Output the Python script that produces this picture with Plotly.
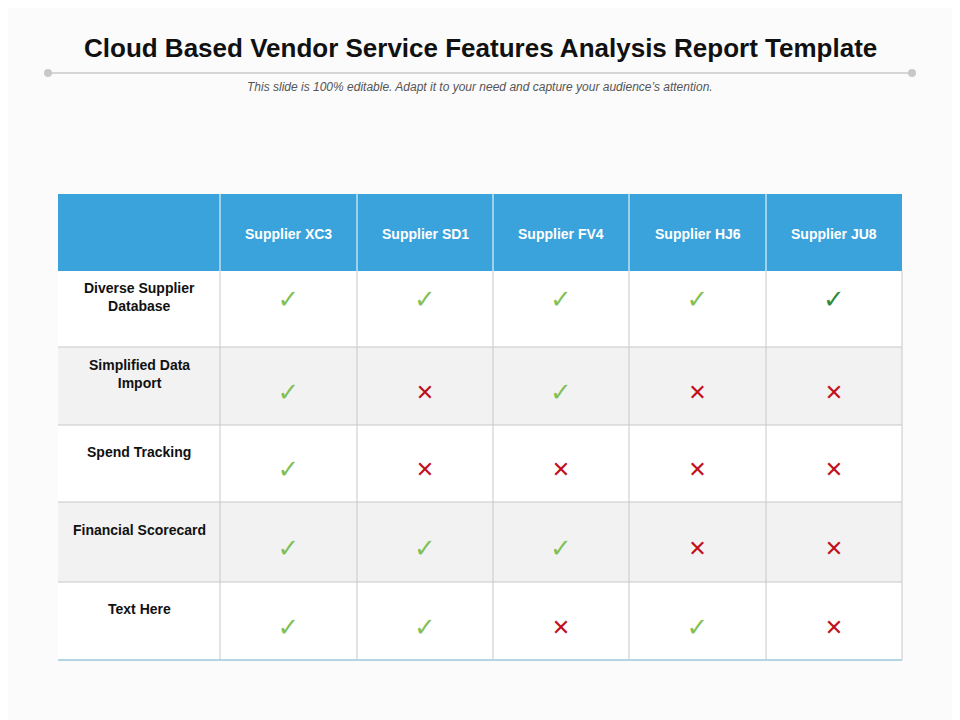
import plotly.graph_objects as go

suppliers = ["Supplier XC3", "Supplier SD1", "Supplier FV4", "Supplier HJ6", "Supplier JU8"]
features = ["Diverse Supplier<br>Database", "Simplified Data<br>Import", "Spend Tracking",
            "Financial Scorecard", "Text Here"]
# 1 = check, 0 = cross, 2 = dark check
marks = [
    [1, 1, 1, 1, 2],
    [1, 0, 1, 0, 0],
    [1, 0, 0, 0, 0],
    [1, 1, 1, 0, 0],
    [1, 1, 0, 1, 0],
]

col_edges = [58, 220, 357, 493, 629, 766, 902]
row_edges = [194, 271, 347, 425, 502, 582, 660]
HEADER_BLUE = "#3ba3dc"
GRID = "#c8c8c8"

fig = go.Figure()
shapes = []
# header
shapes.append(dict(type="rect", x0=col_edges[0], x1=col_edges[-1], y0=row_edges[0], y1=row_edges[1],
                   fillcolor=HEADER_BLUE, line_width=0, layer="below"))
for i in range(len(features)):
    fill = "#f2f2f2" if i % 2 == 1 else "white"
    shapes.append(dict(type="rect", x0=col_edges[0], x1=col_edges[-1], y0=row_edges[i + 1], y1=row_edges[i + 2],
                       fillcolor=fill, line_width=0, layer="below"))
    shapes.append(dict(type="line", x0=col_edges[0], x1=col_edges[-1], y0=row_edges[i + 2], y1=row_edges[i + 2],
                       line=dict(color=GRID if i < len(features) - 1 else "#6aaed0", width=1)))
for x in col_edges[1:-1]:
    shapes.append(dict(type="line", x0=x, x1=x, y0=row_edges[0], y1=row_edges[1], line=dict(color="white", width=1)))
    shapes.append(dict(type="line", x0=x, x1=x, y0=row_edges[1], y1=row_edges[-1], line=dict(color=GRID, width=1)))
shapes.append(dict(type="line", x0=col_edges[-1], x1=col_edges[-1], y0=row_edges[1], y1=row_edges[-1],
                   line=dict(color=GRID, width=1)))
# title rule
shapes.append(dict(type="line", x0=48, x1=912, y0=73, y1=73, line=dict(color="#c8c8c8", width=1.5)))
for x in (48, 912):
    shapes.append(dict(type="circle", x0=x - 4, x1=x + 4, y0=69, y1=77, fillcolor="#c8c8c8", line_width=0))

ann = []
ann.append(dict(x=480, y=48, text="<b>Cloud Based Vendor Service Features Analysis Report Template</b>",
                showarrow=False, font=dict(size=26, color="#111", family="Arial")))
ann.append(dict(x=480, y=87, text="<i>This slide is 100% editable. Adapt it to your need and capture your audience’s attention.</i>",
                showarrow=False, font=dict(size=12, color="#555", family="Arial")))
for j, s in enumerate(suppliers):
    ann.append(dict(x=(col_edges[j + 1] + col_edges[j + 2]) / 2, y=234, text="<b>%s</b>" % s,
                    showarrow=False, font=dict(size=14, color="white", family="Arial")))
for i, f in enumerate(features):
    ann.append(dict(x=(col_edges[0] + col_edges[1]) / 2, y=(row_edges[i + 1] + row_edges[i + 2]) / 2 - 12,
                    text="<b>%s</b>" % f, showarrow=False, font=dict(size=14, color="#111", family="Arial")))

styles = {1: ("✓", "#82bf56", 26), 2: ("✓", "#2e8b3e", 26), 0: ("✕", "#c0101a", 22)}
for k in (1, 2, 0):
    xs, ys = [], []
    for i, row in enumerate(marks):
        for j, v in enumerate(row):
            if v == k:
                xs.append((col_edges[j + 1] + col_edges[j + 2]) / 2)
                ys.append((row_edges[i + 1] + row_edges[i + 2]) / 2 + (-8 if i == 0 else 8))
    sym, color, size = styles[k]
    fig.add_trace(go.Scatter(x=xs, y=ys, mode="text", text=[sym] * len(xs),
                             textfont=dict(size=size, color=color, family="DejaVu Sans"), hoverinfo="skip"))

fig.update_layout(
    width=960, height=720, margin=dict(l=0, r=0, t=0, b=0),
    plot_bgcolor="#fbfbfb", paper_bgcolor="#fbfbfb", showlegend=False,
    xaxis=dict(range=[8, 968], visible=False, fixedrange=True),
    yaxis=dict(range=[728, 8], visible=False, fixedrange=True),
    shapes=shapes, annotations=ann,
)
fig.write_html("out.html")
